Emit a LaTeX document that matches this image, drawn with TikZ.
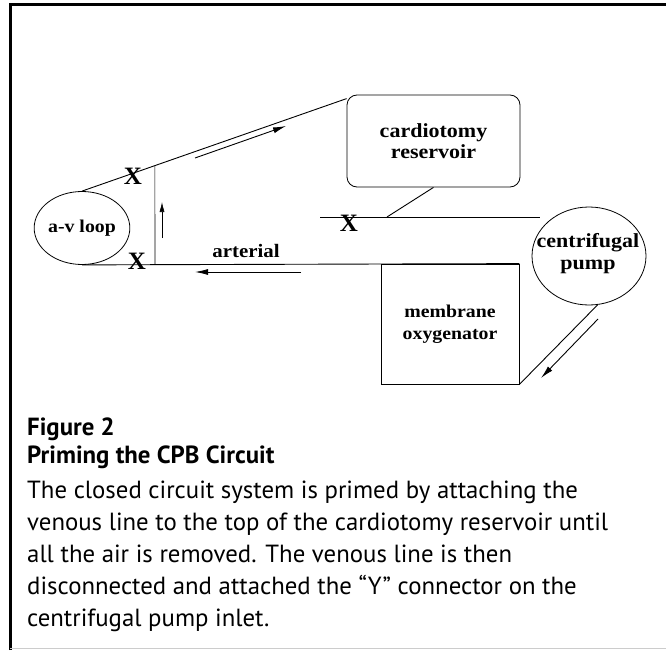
\documentclass[tikz,border=0pt]{standalone}
\usepackage{fontspec}
\setmainfont{Liberation Serif}
\newfontfamily\labelfont[FakeStretch=1.1]{Liberation Serif}
\newfontfamily\captionfont{PT Sans}
\usetikzlibrary{shapes.geometric,arrows.meta}

\tikzset{
  part/.style={draw, line width=0.8pt, align=center,
    font=\labelfont\bfseries\fontsize{18}{22}\selectfont},
  bigpart/.style={part, font=\labelfont\bfseries\fontsize{20}{21}\selectfont},
  bigtext/.style={align=center, inner sep=0pt,
    font=\labelfont\bfseries\fontsize{20}{22}\selectfont},
  tube/.style={line width=0.9pt},
  flow/.style={line width=0.9pt, -{Latex[length=13pt,width=6pt]}},
  clamp/.style={inner sep=0pt, font=\bfseries\fontsize{25}{25}\selectfont},
  capline/.style={anchor=base west, inner sep=0pt,
    font=\captionfont\fontsize{24.8}{32}\selectfont},
}

\begin{document}
\begin{tikzpicture}[x=1pt,y=-1pt]
  \useasboundingbox (0,0) rectangle (666,650);

  % frame round the figure
  \draw[line width=3pt] (10,650) -- (10,4.5) -- (666,4.5);
  \draw[gray!40, line width=1pt] (10,648.5) -- (666,648.5);

  % circuit parts
  \node[part, ellipse, minimum width=92, minimum height=73, inner sep=0pt]
    (avloop) at (82,228) {a-v loop};
  \node[bigpart, rounded corners=10pt, minimum width=173, minimum height=92]
    (reservoir) at (433.5,141) {cardiotomy\\reservoir};
  \node[draw, line width=0.8pt, ellipse, minimum width=114, minimum height=98,
    inner sep=0pt] (pump) at (589,256) {};
  \node[bigtext] (pumptext) at (588,254) {centrifugal\\pump};
  \node[part, minimum width=138, minimum height=120]
    (oxy) at (450,324) {membrane\\oxygenator};

  % tubing
  \coordinate (resin) at ([yshift=-4pt]reservoir.north west);
  \draw[tube] (avloop.north) -- (resin);
  \path (avloop.north) -- coordinate[pos=0.2755] (vtop) (resin);
  \coordinate (vbot) at (155,264);
  \draw[tube, line width=0.6pt] (vtop) -- (vbot);
  \draw[tube] (avloop.south) -- (oxy.north east);
  \coordinate (venleft) at (320,217);
  \coordinate (venjoin) at (387,217);
  \coordinate (venright) at (540,217);
  \draw[tube] (venleft) -- (venright);
  \draw[tube] (reservoir.south) -- (venjoin);
  \draw[tube] (pump.-80) -- (oxy.south east);

  % clamps
  \node[clamp] (xtop) at (133,176) {X};
  \node[clamp] (xbot) at (137,261) {X};
  \node[clamp] (xven) at (349,223) {X};

  \node[font=\labelfont\bfseries\fontsize{19}{22}\selectfont] (arterial) at (246,251) {arterial};

  % flow direction
  \coordinate (f1a) at (195,158); \coordinate (f1b) at (286,126);
  \coordinate (f2a) at (162,238); \coordinate (f2b) at (162,202);
  \coordinate (f3a) at (301,272); \coordinate (f3b) at (195,272);
  \coordinate (f4a) at (598,319); \coordinate (f4b) at (541,378);
  \draw[flow] (f1a) -- (f1b);
  \draw[flow, line width=0.6pt, -{Latex[length=10pt,width=5pt]}] (f2a) -- (f2b);
  \draw[flow] (f3a) -- (f3b);
  \draw[flow] (f4a) -- (f4b);

  % caption
  \node[capline, font=\captionfont\bfseries\fontsize{24.8}{32}\selectfont]
    (fignum) at (27,435) {Figure 2};
  \node[capline, font=\captionfont\bfseries\fontsize{24.8}{32}\selectfont]
    (figtitle) at (27,463) {Priming the CPB Circuit};
  \foreach \txt [count=\i] in {
      The closed circuit system is primed by attaching the,
      venous line to the top of the cardiotomy reservoir until,
      all the air is removed. The venous line is then,
      disconnected and attached the “Y” connector on the,
      centrifugal pump inlet.}
    \node[capline] (capline\i) at (27,466+32*\i) {\txt};
\end{tikzpicture}
\end{document}
